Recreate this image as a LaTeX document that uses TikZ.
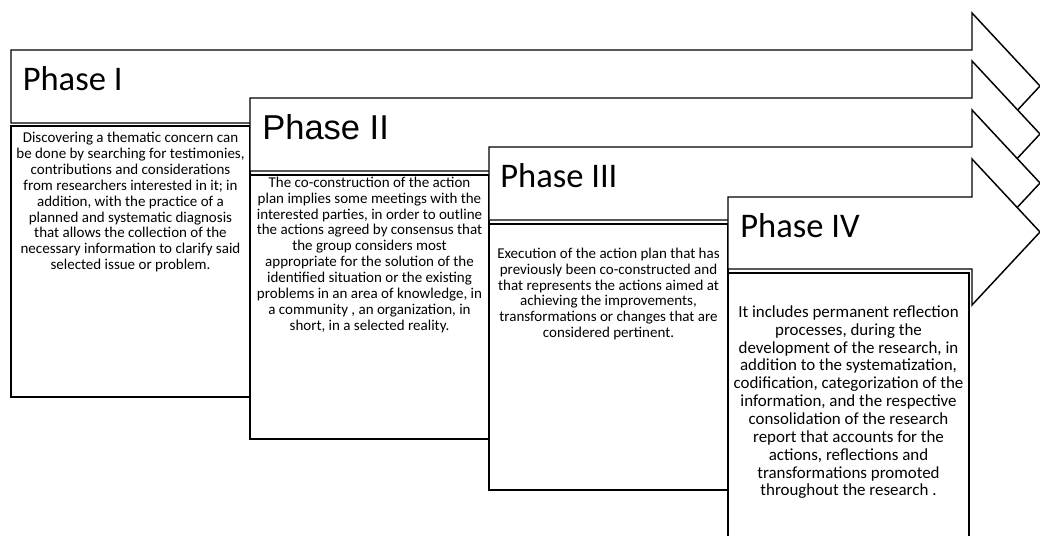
\documentclass[tikz,border=0pt]{standalone}
\usepackage{fontspec}
\setmainfont{Carlito}
\newfontfamily\arialfont{Liberation Sans}

\begin{document}
\begin{tikzpicture}[x=0.75pt, y=-0.75pt,
  phasearrow/.style={draw=black, line width=1.1pt, fill=white, line join=miter},
  contentbox/.style={draw=black, line width=1.1pt, fill=white},
  phasetitle/.style={anchor=base west, inner sep=0pt, font=\fontsize{25.9pt}{31pt}\selectfont},
  % body nodes hang from their top edge; each first line starts with a strut,
  % so the first baseline sits 0.7\baselineskip below the given point
  bodytext/.style={anchor=north, inner sep=0pt, align=center, font=\fontsize{11.25pt}{11.9pt}\selectfont},
  bodytextlarge/.style={anchor=north, inner sep=0pt, align=center, font=\fontsize{12.7pt}{13.4pt}\selectfont}]

\useasboundingbox (0,0) rectangle (1040,536);

% ---------- Phase I ----------
\draw[phasearrow] (11,50) -- (972,50) -- (972,13) -- (1040,86) -- (972,159)
  -- (972,123) -- (11,123) -- cycle;
\draw[contentbox] (11,126) rectangle (250,397);
\node[phasetitle] (t1) at (22.5,90) {Phase I};
\node[bodytext] (b1) at (130.5,131.4) {\strut Discovering a thematic concern can\\
be done by searching for testimonies,\\
contributions and considerations\\
from researchers interested in it; in\\
addition, with the practice of a\\
planned and systematic diagnosis\\
that allows the collection of the\\
necessary information to clarify said\\
selected issue or problem.};

% ---------- Phase II ----------
\draw[phasearrow] (250,98) -- (972,98) -- (972,61) -- (1040,134) -- (972,207)
  -- (972,171) -- (250,171) -- cycle;
\draw[contentbox] (250,175) rectangle (489,439);
\node[phasetitle, font=\arialfont\fontsize{25.9pt}{31pt}\selectfont] (t2) at (262,139) {Phase II};
\node[bodytext] (b2) at (369.5,175.9) {\strut The co-construction of the action\\
plan implies some meetings with the\\
interested parties, in order to outline\\
the actions agreed by consensus that\\
the group considers most\\
appropriate for the solution of the\\
identified situation or the existing\\
problems in an area of knowledge, in\\
a community , an organization, in\\
short, in a selected reality.};

% ---------- Phase III ----------
\draw[phasearrow] (489,147) -- (972,147) -- (972,110) -- (1040,183) -- (972,256)
  -- (972,220) -- (489,220) -- cycle;
\draw[contentbox] (489,224) rectangle (728,490);
\node[phasetitle] (t3) at (500,187) {Phase III};
\node[bodytext] (b3) at (608.5,246.9) {\strut Execution of the action plan that has\\
previously been co-constructed and\\
that represents the actions aimed at\\
achieving the improvements,\\
transformations or changes that are\\
considered pertinent.};

% ---------- Phase IV ----------
\draw[phasearrow] (728,197) -- (972,197) -- (972,159) -- (1040,232) -- (972,305)
  -- (972,269) -- (728,269) -- cycle;
\draw[contentbox] (728,273) rectangle (969,545);
\node[phasetitle] (t4) at (740,237) {Phase IV};
\node[bodytextlarge] (b4) at (848.5,304.5) {\strut It includes permanent reflection\\
processes, during the\\
development of the research, in\\
addition to the systematization,\\
codification, categorization of the\\
information, and the respective\\
consolidation of the research\\
report that accounts for the\\
actions, reflections and\\
transformations promoted\\
throughout the research .};

\end{tikzpicture}
\end{document}
